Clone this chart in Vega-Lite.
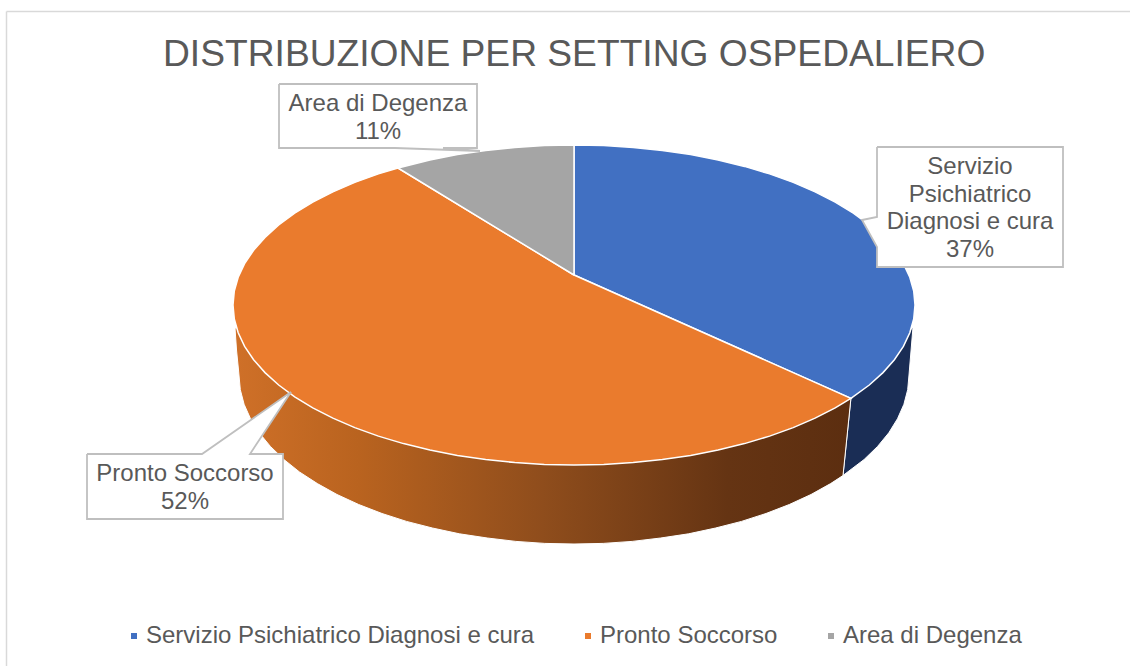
{"$schema":"https://vega.github.io/schema/vega-lite/v6.json","width":1130,"height":666,"padding":0,"autosize":{"type":"none"},"background":"white",
"config":{"view":{"stroke":null},"font":"Liberation Sans"},
"title":{"text":"DISTRIBUZIONE PER SETTING OSPEDALIERO","font":"Liberation Sans","fontSize":37.2,"fontWeight":"normal","color":"#595959","anchor":"start","frame":"group","offset":-103,"baseline":"alphabetic","dx":163},
"datasets":{
"values":[{"series":"Servizio Psichiatrico Diagnosi e cura","share":37,"label":"Servizio\nPsichiatrico\nDiagnosi e cura\n37%"},{"series":"Pronto Soccorso","share":52,"label":"Pronto Soccorso\n52%"},{"series":"Area di Degenza","share":11,"label":"Area di Degenza\n11%"}],
"walls":[
{"series":"blue","i":0,"x":850.9,"y":398.4},{"series":"blue","i":1,"x":913,"y":327},{"series":"blue","i":2,"x":909,"y":375},{"series":"blue","i":3,"x":907.7,"y":389.7},{"series":"blue","i":4,"x":903.9,"y":404.3},{"series":"blue","i":5,"x":897.5,"y":418.7},{"series":"blue","i":6,"x":888.8,"y":432.8},{"series":"blue","i":7,"x":877.6,"y":446.4},{"series":"blue","i":8,"x":864.1,"y":459.5},{"series":"blue","i":9,"x":843,"y":475.5},{"series":"blue","i":10,"x":850.9,"y":398.4},
{"series":"orange","i":0,"x":850.9,"y":398.4},{"series":"orange","i":1,"x":843,"y":475.5},{"series":"orange","i":2,"x":830.6,"y":483.6},{"series":"orange","i":3,"x":811,"y":494.5},{"series":"orange","i":4,"x":789.3,"y":504.5},{"series":"orange","i":5,"x":766,"y":513.5},{"series":"orange","i":6,"x":741.5,"y":521.4},{"series":"orange","i":7,"x":715.6,"y":528},{"series":"orange","i":8,"x":688.6,"y":533.8},{"series":"orange","i":9,"x":660.7,"y":538},{"series":"orange","i":10,"x":632.2,"y":541.4},{"series":"orange","i":11,"x":603.2,"y":543.4},{"series":"orange","i":12,"x":574,"y":544},{"series":"orange","i":13,"x":544.8,"y":543.4},{"series":"orange","i":14,"x":515.8,"y":541.4},{"series":"orange","i":15,"x":487.3,"y":538},{"series":"orange","i":16,"x":459.4,"y":533.8},{"series":"orange","i":17,"x":432.4,"y":528},{"series":"orange","i":18,"x":406.5,"y":521.4},{"series":"orange","i":19,"x":382,"y":513.5},{"series":"orange","i":20,"x":358.7,"y":504.5},{"series":"orange","i":21,"x":337,"y":494.5},{"series":"orange","i":22,"x":317.4,"y":483.6},{"series":"orange","i":23,"x":299.5,"y":472},{"series":"orange","i":24,"x":283.9,"y":459.5},{"series":"orange","i":25,"x":270.4,"y":446.4},{"series":"orange","i":26,"x":259.2,"y":432.8},{"series":"orange","i":27,"x":250.5,"y":418.7},{"series":"orange","i":28,"x":244.1,"y":404.3},{"series":"orange","i":29,"x":240.3,"y":389.7},{"series":"orange","i":30,"x":238.5,"y":370},{"series":"orange","i":31,"x":236.5,"y":350},{"series":"orange","i":32,"x":235,"y":328},{"series":"orange","i":33,"x":574,"y":305},{"series":"orange","i":34,"x":850.9,"y":398.4}],
"top":[
{"series":"Servizio Psichiatrico Diagnosi e cura","i":0,"x":574,"y":275},{"series":"Servizio Psichiatrico Diagnosi e cura","i":1,"x":574,"y":145},{"series":"Servizio Psichiatrico Diagnosi e cura","i":2,"x":603.7,"y":145.6},{"series":"Servizio Psichiatrico Diagnosi e cura","i":3,"x":633.2,"y":147.4},{"series":"Servizio Psichiatrico Diagnosi e cura","i":4,"x":662.3,"y":150.5},{"series":"Servizio Psichiatrico Diagnosi e cura","i":5,"x":690.6,"y":154.6},{"series":"Servizio Psichiatrico Diagnosi e cura","i":6,"x":718.1,"y":160},{"series":"Servizio Psichiatrico Diagnosi e cura","i":7,"x":744.5,"y":166.4},{"series":"Servizio Psichiatrico Diagnosi e cura","i":8,"x":769.6,"y":173.9},{"series":"Servizio Psichiatrico Diagnosi e cura","i":9,"x":793.2,"y":182.4},{"series":"Servizio Psichiatrico Diagnosi e cura","i":10,"x":815.1,"y":191.9},{"series":"Servizio Psichiatrico Diagnosi e cura","i":11,"x":835.2,"y":202.2},{"series":"Servizio Psichiatrico Diagnosi e cura","i":12,"x":853.3,"y":213.2},{"series":"Servizio Psichiatrico Diagnosi e cura","i":13,"x":869.3,"y":225},{"series":"Servizio Psichiatrico Diagnosi e cura","i":14,"x":883,"y":237.4},{"series":"Servizio Psichiatrico Diagnosi e cura","i":15,"x":894.4,"y":250.3},{"series":"Servizio Psichiatrico Diagnosi e cura","i":16,"x":903.4,"y":263.6},{"series":"Servizio Psichiatrico Diagnosi e cura","i":17,"x":909.8,"y":277.2},{"series":"Servizio Psichiatrico Diagnosi e cura","i":18,"x":913.7,"y":291},{"series":"Servizio Psichiatrico Diagnosi e cura","i":19,"x":915,"y":305},{"series":"Servizio Psichiatrico Diagnosi e cura","i":20,"x":913.7,"y":319},{"series":"Servizio Psichiatrico Diagnosi e cura","i":21,"x":909.8,"y":332.8},{"series":"Servizio Psichiatrico Diagnosi e cura","i":22,"x":903.4,"y":346.4},{"series":"Servizio Psichiatrico Diagnosi e cura","i":23,"x":894.4,"y":359.7},{"series":"Servizio Psichiatrico Diagnosi e cura","i":24,"x":883,"y":372.6},{"series":"Servizio Psichiatrico Diagnosi e cura","i":25,"x":869.3,"y":385},{"series":"Servizio Psichiatrico Diagnosi e cura","i":26,"x":850.9,"y":398.4},{"series":"Servizio Psichiatrico Diagnosi e cura","i":27,"x":574,"y":275},
{"series":"Pronto Soccorso","i":0,"x":574,"y":275},{"series":"Pronto Soccorso","i":1,"x":850.9,"y":398.4},{"series":"Pronto Soccorso","i":2,"x":835.2,"y":407.8},{"series":"Pronto Soccorso","i":3,"x":815.1,"y":418.1},{"series":"Pronto Soccorso","i":4,"x":793.2,"y":427.6},{"series":"Pronto Soccorso","i":5,"x":769.6,"y":436.1},{"series":"Pronto Soccorso","i":6,"x":744.5,"y":443.6},{"series":"Pronto Soccorso","i":7,"x":718.1,"y":450},{"series":"Pronto Soccorso","i":8,"x":690.6,"y":455.4},{"series":"Pronto Soccorso","i":9,"x":662.3,"y":459.5},{"series":"Pronto Soccorso","i":10,"x":633.2,"y":462.6},{"series":"Pronto Soccorso","i":11,"x":603.7,"y":464.4},{"series":"Pronto Soccorso","i":12,"x":574,"y":465},{"series":"Pronto Soccorso","i":13,"x":544.3,"y":464.4},{"series":"Pronto Soccorso","i":14,"x":514.8,"y":462.6},{"series":"Pronto Soccorso","i":15,"x":485.7,"y":459.5},{"series":"Pronto Soccorso","i":16,"x":457.4,"y":455.4},{"series":"Pronto Soccorso","i":17,"x":429.9,"y":450},{"series":"Pronto Soccorso","i":18,"x":403.5,"y":443.6},{"series":"Pronto Soccorso","i":19,"x":378.4,"y":436.1},{"series":"Pronto Soccorso","i":20,"x":354.8,"y":427.6},{"series":"Pronto Soccorso","i":21,"x":332.9,"y":418.1},{"series":"Pronto Soccorso","i":22,"x":312.8,"y":407.8},{"series":"Pronto Soccorso","i":23,"x":294.7,"y":396.8},{"series":"Pronto Soccorso","i":24,"x":278.7,"y":385},{"series":"Pronto Soccorso","i":25,"x":265,"y":372.6},{"series":"Pronto Soccorso","i":26,"x":253.6,"y":359.7},{"series":"Pronto Soccorso","i":27,"x":244.6,"y":346.4},{"series":"Pronto Soccorso","i":28,"x":238.2,"y":332.8},{"series":"Pronto Soccorso","i":29,"x":234.3,"y":319},{"series":"Pronto Soccorso","i":30,"x":233,"y":305},{"series":"Pronto Soccorso","i":31,"x":234.3,"y":291},{"series":"Pronto Soccorso","i":32,"x":238.2,"y":277.2},{"series":"Pronto Soccorso","i":33,"x":244.6,"y":263.6},{"series":"Pronto Soccorso","i":34,"x":253.6,"y":250.3},{"series":"Pronto Soccorso","i":35,"x":265,"y":237.4},{"series":"Pronto Soccorso","i":36,"x":278.7,"y":225},{"series":"Pronto Soccorso","i":37,"x":294.7,"y":213.2},{"series":"Pronto Soccorso","i":38,"x":312.8,"y":202.2},{"series":"Pronto Soccorso","i":39,"x":332.9,"y":191.9},{"series":"Pronto Soccorso","i":40,"x":354.8,"y":182.4},{"series":"Pronto Soccorso","i":41,"x":378.4,"y":173.9},{"series":"Pronto Soccorso","i":42,"x":398,"y":168},{"series":"Pronto Soccorso","i":43,"x":574,"y":275},
{"series":"Area di Degenza","i":0,"x":574,"y":275},{"series":"Area di Degenza","i":1,"x":398,"y":168},{"series":"Area di Degenza","i":2,"x":429.9,"y":160},{"series":"Area di Degenza","i":3,"x":457.4,"y":154.6},{"series":"Area di Degenza","i":4,"x":485.7,"y":150.5},{"series":"Area di Degenza","i":5,"x":514.8,"y":147.4},{"series":"Area di Degenza","i":6,"x":544.3,"y":145.6},{"series":"Area di Degenza","i":7,"x":574,"y":145},{"series":"Area di Degenza","i":8,"x":574,"y":275}],
"callouts":[
{"series":"Area di Degenza","i":0,"x":279,"y":84},{"series":"Area di Degenza","i":1,"x":477,"y":84},{"series":"Area di Degenza","i":2,"x":477,"y":148},{"series":"Area di Degenza","i":3,"x":443,"y":148},{"series":"Area di Degenza","i":4,"x":480,"y":151},{"series":"Area di Degenza","i":5,"x":395,"y":148},{"series":"Area di Degenza","i":6,"x":279,"y":148},{"series":"Area di Degenza","i":7,"x":279,"y":84},
{"series":"Pronto Soccorso","i":0,"x":87,"y":454},{"series":"Pronto Soccorso","i":1,"x":202,"y":454},{"series":"Pronto Soccorso","i":2,"x":291,"y":392},{"series":"Pronto Soccorso","i":3,"x":250,"y":454},{"series":"Pronto Soccorso","i":4,"x":283,"y":454},{"series":"Pronto Soccorso","i":5,"x":283,"y":519},{"series":"Pronto Soccorso","i":6,"x":87,"y":519},{"series":"Pronto Soccorso","i":7,"x":87,"y":454},
{"series":"Servizio Psichiatrico Diagnosi e cura","i":0,"x":877,"y":147},{"series":"Servizio Psichiatrico Diagnosi e cura","i":1,"x":1063,"y":147},{"series":"Servizio Psichiatrico Diagnosi e cura","i":2,"x":1063,"y":267},{"series":"Servizio Psichiatrico Diagnosi e cura","i":3,"x":877,"y":267},{"series":"Servizio Psichiatrico Diagnosi e cura","i":4,"x":877,"y":247},{"series":"Servizio Psichiatrico Diagnosi e cura","i":5,"x":862,"y":220},{"series":"Servizio Psichiatrico Diagnosi e cura","i":6,"x":877,"y":217},{"series":"Servizio Psichiatrico Diagnosi e cura","i":7,"x":877,"y":147}]
},
"encoding":{"x":{"type":"quantitative","scale":{"domain":[0,1130],"nice":false,"zero":false},"axis":null},"y":{"type":"quantitative","scale":{"domain":[666,0],"nice":false,"zero":false},"axis":null}},
"layer":[
{"data":{"values":[{"a":1}]},"mark":{"type":"rule","stroke":"#d9d9d9","strokeWidth":1.5},"encoding":{"x":{"datum":6.5,"type":"quantitative"},"y":{"datum":11.5,"type":"quantitative"},"y2":{"datum":666}}},
{"data":{"values":[{"a":1}]},"mark":{"type":"rule","stroke":"#d9d9d9","strokeWidth":1.5},"encoding":{"y":{"datum":11.5,"type":"quantitative"},"x":{"datum":6.5,"type":"quantitative"},"x2":{"datum":1130}}},
{"data":{"name":"walls"},"transform":[{"filter":"datum.series==='blue'"}],"mark":{"type":"line","fill":"#1a2d55","stroke":"#ffffff","strokeWidth":1},"encoding":{"x":{"field":"x","type":"quantitative"},"y":{"field":"y","type":"quantitative"},"order":{"field":"i"}}},
{"data":{"name":"walls"},"transform":[{"filter":"datum.series==='orange'"}],"mark":{"type":"line","fill":{"gradient":"linear","x1":0,"y1":0,"x2":1,"y2":0,"stops":[{"offset":0,"color":"#cf7028"},{"offset":0.2,"color":"#b9631f"},{"offset":0.5,"color":"#8f4d1c"},{"offset":0.8,"color":"#653413"},{"offset":1,"color":"#5c2e10"}]},"stroke":"#ffffff","strokeWidth":1},"encoding":{"x":{"field":"x","type":"quantitative"},"y":{"field":"y","type":"quantitative"},"order":{"field":"i"}}},
{"data":{"name":"top"},"mark":{"type":"line","stroke":"#ffffff","strokeWidth":1.5},"encoding":{"x":{"field":"x","type":"quantitative"},"y":{"field":"y","type":"quantitative"},"order":{"field":"i"},"fill":{"field":"series","type":"nominal","scale":{"domain":["Servizio Psichiatrico Diagnosi e cura","Pronto Soccorso","Area di Degenza"],"range":["#4170c2","#ea7b2d","#a5a5a5"]},"legend":{"title":null,"orient":"none","legendX":122,"legendY":624,"direction":"horizontal","columns":3,"symbolType":"square","symbolSize":36,"symbolStrokeWidth":0,"labelFont":"Liberation Sans","labelFontSize":24,"labelColor":"#595959","labelLimit":500,"columnPadding":41,"labelOffset":0}}}},
{"data":{"name":"callouts"},"mark":{"type":"line","fill":"#ffffff","stroke":"#bfbfbf","strokeWidth":1.8},"encoding":{"x":{"field":"x","type":"quantitative"},"y":{"field":"y","type":"quantitative"},"order":{"field":"i"},"detail":{"field":"series"}}},
{"data":{"name":"values"},"transform":[{"filter":"datum.share===37"}],"mark":{"type":"text","lineBreak":"\n","lineHeight":27.5,"fontSize":24,"color":"#595959","align":"center","baseline":"middle","font":"Liberation Sans"},"encoding":{"x":{"datum":970,"type":"quantitative"},"y":{"datum":167,"type":"quantitative"},"text":{"field":"label"}}},
{"data":{"name":"values"},"transform":[{"filter":"datum.share===52"}],"mark":{"type":"text","lineBreak":"\n","lineHeight":27.5,"fontSize":24,"color":"#595959","align":"center","baseline":"middle","font":"Liberation Sans"},"encoding":{"x":{"datum":185,"type":"quantitative"},"y":{"datum":474,"type":"quantitative"},"text":{"field":"label"}}},
{"data":{"name":"values"},"transform":[{"filter":"datum.share===11"}],"mark":{"type":"text","lineBreak":"\n","lineHeight":27.5,"fontSize":24,"color":"#595959","align":"center","baseline":"middle","font":"Liberation Sans"},"encoding":{"x":{"datum":378,"type":"quantitative"},"y":{"datum":104,"type":"quantitative"},"text":{"field":"label"}}}
]}
